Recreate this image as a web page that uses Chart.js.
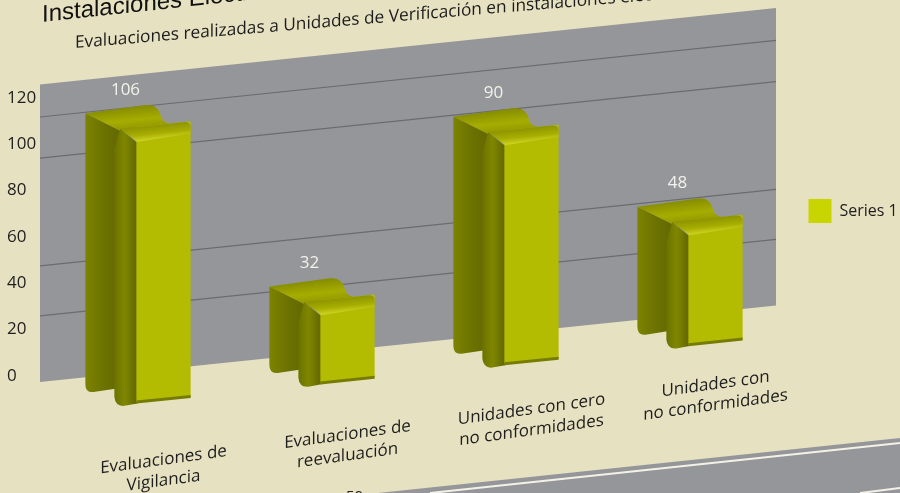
<!DOCTYPE html>
<html><head><meta charset="utf-8">
<style>html,body{margin:0;padding:0;background:#e6e1c1;overflow:hidden}canvas{display:block}</style>
<script src="https://cdn.jsdelivr.net/npm/chart.js@4"></script>
</head><body><canvas id="c" width="900" height="493"></canvas>
<script>
const categories = [["Evaluaciones de","Vigilancia"],["Evaluaciones de","reevaluación"],["Unidades con cero","no conformidades"],["Unidades con","no conformidades"]];
const seriesValues = [106,32,90,48];
const seriesName = "Series 1";
const tickValues = [0,20,40,60,80,100,120];
const gridValues = [37.2,56.4,97.9,113.7];
const titleText = "Instalaciones Eléctricas";
const subtitleText = "Evaluaciones realizadas a Unidades de Verificación en instalaciones eléctricas";
const wallBase = 11.8;

const BG='#e6e1c1', WALL='#95969a', FONT='"Open Sans"';
const K=0.104, KX=0.137, PIVOT=40, LABEL_PIVOT=259, DEPTH=31.5;
const shear=(ctx,k,p)=>ctx.transform(1,-k,0,1,0,k*p);
const hgrad=(ctx,x0,x1,stops)=>{const g=ctx.createLinearGradient(x0,0,x1,0);stops.forEach(([p,c])=>g.addColorStop(p,c));return g;};
const vgrad=(ctx,y0,y1,stops)=>{const g=ctx.createLinearGradient(0,y0,0,y1);stops.forEach(([p,c])=>g.addColorStop(p,c));return g;};

const scene={
  id:'scene',
  beforeLayout(chart){
    const lg=chart.legend;
    if(lg) lg._layers=()=>[{z:10,draw:a=>lg.draw(a)}];
  },
  afterLayout(chart){
    if(chart.legend) chart.legend.bottom=337.5;
  },
  beforeDraw(chart){
    const {ctx,chartArea:a,scales:{y}}=chart;
    ctx.save();
    ctx.fillStyle=BG;ctx.fillRect(0,0,chart.width,chart.height);
    // lower decorative band
    ctx.fillStyle=WALL;
    ctx.beginPath();ctx.moveTo(378,493);ctx.lineTo(900,438);ctx.lineTo(900,493);ctx.closePath();ctx.fill();
    ctx.strokeStyle='#f4f2e6';ctx.lineWidth=2;
    ctx.beginPath();ctx.moveTo(430,493);ctx.lineTo(900,443);ctx.stroke();
    ctx.beginPath();ctx.moveTo(860,493);ctx.lineTo(900,488);ctx.stroke();
    ctx.fillStyle='#222';ctx.font='15px '+FONT;ctx.textAlign='left';ctx.textBaseline='alphabetic';
    ctx.fillText('50',346,501);
    // title + subtitle
    ctx.save();ctx.transform(1,-0.107,0,1,42,22);
    ctx.fillStyle='#111';ctx.font='24px "Liberation Sans"';ctx.fillText(titleText,0,0);ctx.restore();
    ctx.save();ctx.transform(1,-0.083,0,1,75,48);
    ctx.fillStyle='#1c1c1c';ctx.font='17.3px '+FONT;ctx.fillText(subtitleText,0,0);ctx.restore();
    // wall and grid
    ctx.save();shear(ctx,K,PIVOT);
    const l=a.left-DEPTH,r=a.right-DEPTH;
    ctx.fillStyle=WALL;ctx.fillRect(l,a.top,r-l,y.getPixelForValue(wallBase)-a.top);
    ctx.strokeStyle='#6b6c6f';ctx.lineWidth=1.2;
    gridValues.forEach(v=>{const p=y.getPixelForValue(v);ctx.beginPath();ctx.moveTo(l,p);ctx.lineTo(r,p);ctx.stroke();});
    ctx.restore();
    ctx.restore();
    ctx.save();shear(ctx,KX,LABEL_PIVOT); // tilts the category labels, drawn next
  },
  beforeDatasetsDraw(chart){
    const {ctx}=chart;
    ctx.restore();
    ctx.save();shear(ctx,K,PIVOT);
    chart.getDatasetMeta(0).data.forEach(el=>{
      const c=el.x,w=el.width/2,t=el.y,b=el.base,fl=c-w;
      // rear block side
      ctx.fillStyle=hgrad(ctx,fl-51,fl-21,[[0,'#7c8300'],[0.5,'#6f7500'],[1,'#656b00']]);
      ctx.beginPath();ctx.moveTo(fl-51,t-19);ctx.lineTo(fl-16,t+2);ctx.lineTo(fl-21,t+20);ctx.lineTo(fl-21,b-16);
      ctx.lineTo(fl-43,b-15);ctx.quadraticCurveTo(fl-51,b-15,fl-51,b-24);ctx.closePath();ctx.fill();
      // rear block top
      ctx.fillStyle=vgrad(ctx,t-21,t+4,[[0,'#858c00'],[0.55,'#a6ad00'],[1,'#8d9400']]);
      ctx.beginPath();ctx.moveTo(fl-51,t-19);ctx.lineTo(c-18,t-21);ctx.quadraticCurveTo(c-6,t-21,c-3,t-10);
      ctx.quadraticCurveTo(c-2,t-2,c+6,t);ctx.lineTo(fl-16,t+2);ctx.closePath();ctx.fill();
      // front block side
      ctx.fillStyle=hgrad(ctx,fl-22,fl+1,[[0,'#6b7200'],[0.45,'#7f8700'],[1,'#5f6500']]);
      ctx.beginPath();ctx.moveTo(fl-16,t);ctx.lineTo(fl+1,t+16);ctx.lineTo(fl+1,b+1);
      ctx.lineTo(fl-12,b+2);ctx.quadraticCurveTo(fl-21,b+2,fl-22,b-8);ctx.lineTo(fl-22,t+20);ctx.closePath();ctx.fill();
    });
  },
  afterDatasetsDraw(chart){
    const {ctx}=chart;
    const pts=chart.getDatasetMeta(0).data;
    pts.forEach(el=>{
      const c=el.x,w=el.width/2,t=el.y,b=el.base,fl=c-w,fr=c+w;
      // front block top
      ctx.fillStyle=vgrad(ctx,t,t+14,[[0,'#8d9400'],[0.6,'#a7ae00'],[1,'#c9d020']]);
      ctx.beginPath();ctx.moveTo(fl-16,t);ctx.lineTo(fr-8,t);ctx.quadraticCurveTo(fr,t,fr,t+6);ctx.lineTo(fr,t+12);
      ctx.lineTo(fl+1,t+15);ctx.closePath();ctx.fill();
      // bottom edge of the front face
      ctx.fillStyle='#767c00';ctx.fillRect(fl,b-2,fr-fl,3);
    });
    ctx.restore();
    ctx.save();
    ctx.fillStyle='#f3f2ea';ctx.font='17px '+FONT;ctx.textAlign='center';ctx.textBaseline='middle';
    pts.forEach((el,i)=>{
      const x=el.x-38,ys=el.y-38;
      ctx.fillText(String(seriesValues[i]),x,ys-K*(x-PIVOT));
    });
    ctx.restore();
  }
};

new Chart(document.getElementById('c'),{
  type:'bar',
  data:{labels:categories,datasets:[{label:seriesName,data:seriesValues,backgroundColor:'#b3bc00',borderWidth:0,clip:false,barPercentage:0.5,categoryPercentage:0.59}]},
  plugins:[scene],
  options:{
    responsive:false,animation:false,
    layout:{padding:{left:7,top:84.5,right:0,bottom:0}},
    plugins:{
      tooltip:{enabled:false},title:{display:false},
      legend:{display:true,position:'right',maxWidth:92.5,
        labels:{boxWidth:23,boxHeight:24,padding:1,color:'#1e1e1e',font:{family:FONT,size:16},
          generateLabels:c=>[{text:seriesName,fillStyle:'#c9d500',strokeStyle:'#c9d500',lineWidth:0,hidden:false,datasetIndex:0,fontColor:'#1e1e1e'}]}}
    },
    scales:{
      x:{grid:{display:false},border:{display:false},
        afterFit:s=>{s.height=80.4;},
        ticks:{maxRotation:0,minRotation:0,autoSkip:false,padding:15.7,color:'#1e1e1e',font:{family:FONT,size:17,lineHeight:1.235}}},
      y:{display:false,min:0,max:126.2},
      yLabels:{position:'left',min:-15.8,max:125.8,grid:{display:false},border:{display:false},
        afterFit:s=>{s.width=64.5;},
        afterBuildTicks:s=>{s.ticks=tickValues.map(value=>({value}));},
        ticks:{z:1,crossAlign:'far',color:'#1e1e1e',font:{family:FONT,size:17},padding:0,display:true}}
    }
  }
});
</script></body></html>
